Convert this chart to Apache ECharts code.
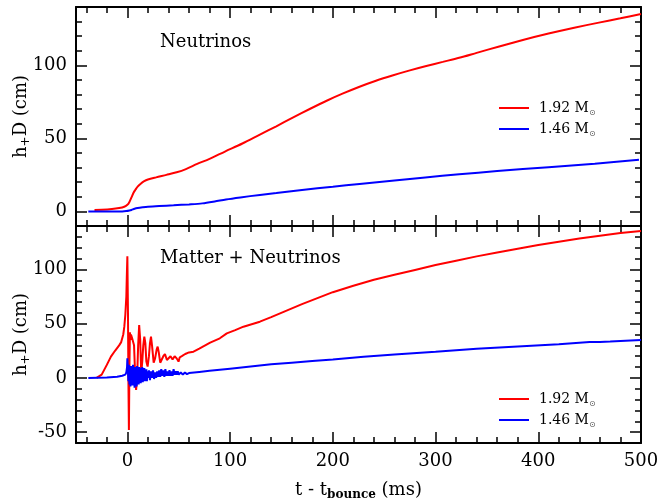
<!DOCTYPE html>
<html>
<head>
<meta charset="utf-8">
<script src="https://cdn.jsdelivr.net/npm/echarts@6/dist/echarts.min.js"></script>
<style>
  html, body { margin: 0; padding: 0; background: #fff; }
  #chart { width: 658px; height: 502px; }
</style>
</head>
<body>
<div id="chart"></div>
<script>
// Progenitor masses (solar masses) shown in the legends
const massLabels = ['1.92', '1.46'];
const panelTitles = ['Neutrinos', 'Matter + Neutrinos'];

// Tick positions
const xMajorTicks = [0, 100, 200, 300, 400, 500];
const xMinorTicks = [-40, -20, 0, 20, 40, 60, 80, 100, 120, 140, 160, 180, 200, 220, 240, 260, 280, 300,
  320, 340, 360, 380, 400, 420, 440, 460, 480, 500];
const yMajorTicksTop = [0, 50, 100];
const yMinorTicksTop = [-10, 0, 10, 20, 30, 40, 50, 60, 70, 80, 90, 100, 110, 120, 130, 140];
const yMajorTicksBottom = [-50, 0, 50, 100];
const yMinorTicksBottom = [-60, -50, -40, -30, -20, -10, 0, 10, 20, 30, 40, 50, 60, 70, 80, 90, 100, 110, 120, 130, 140];

// Neutrino-only signal, [t - t_bounce (ms), h+D (cm)]
const nuHeavy = [
  [-32, 1.0], [-25, 1.1], [-15, 1.6], [-8, 2.3], [-3, 3.2], [0, 4.5], [2, 6.5], [4, 9.6], [6, 12.8],
  [8, 15.0], [10, 17.0], [13, 19.0], [16, 20.5], [20, 21.8], [28, 23.3], [38, 25.0], [48, 26.8],
  [57, 29.0], [68, 32.5], [80, 36.0], [95, 41.0], [112, 46.5], [129, 52.6], [145, 58.3], [161, 64.2],
  [178, 70.3], [194, 75.8], [210, 80.8], [226, 85.4], [242, 89.5], [258, 93.1], [275, 96.6],
  [291, 99.6], [307, 102.4], [323, 105.2], [340, 108.6], [362, 113.0], [385, 117.4], [410, 121.8],
  [435, 125.8], [459, 129.3], [480, 132.3], [500, 135.2]
];
const nuLight = [
  [-38, 0], [-20, 0], [-5, 0], [-1, 0.2], [2, 0.6], [4, 1.0], [7, 1.8], [10, 2.3], [15, 2.8], [20, 3.2],
  [31, 3.7], [45, 4.2], [60, 4.8], [73, 5.5], [85, 6.8], [96, 8.2], [110, 9.6], [129, 11.3], [145, 12.6],
  [170, 14.7], [200, 16.9], [226, 18.8], [260, 21.2], [290, 23.3], [323, 25.4], [360, 27.6], [410, 30.3],
  [455, 32.7], [498, 35.3]
];

// Matter + neutrino signal, [t - t_bounce (ms), h+D (cm)]
const fullHeavy = [
  [-30, 0], [-25, 3], [-20, 12], [-16, 19.6], [-12, 25], [-8, 30], [-6, 33], [-4, 40], [-3, 47],
  [-2, 58], [-1, 75], [-0.5, 95], [0, 112], [0.6, 60], [1.0, 0], [1.5, -48], [2, 10], [2.5, 42],
  [3, 35], [3.5, 40], [4.5, 37], [5.5, 38], [6.5, 30], [7.5, 5], [8.5, -11], [9.5, 0], [10.5, 30],
  [11.5, 48.8], [12.5, 35], [13.5, 4.3], [14.5, 15], [15.5, 30], [16.5, 38], [17.5, 32], [18.5, 15],
  [19.7, 10.4], [21, 20], [22, 32], [23, 38], [24, 30], [25.6, 14], [27, 18], [28.5, 26], [29.5, 28.8],
  [30.5, 24], [32, 14], [33.5, 15], [35, 20], [36.6, 22], [38.5, 16.5], [40, 18], [42, 20], [44, 17],
  [46, 20], [48, 18], [49.8, 15], [51, 19], [53, 20], [56.3, 22], [60, 23.5], [64.4, 24.2], [70, 27],
  [80.6, 32.5], [90, 36.5], [96.8, 41], [105, 44], [113, 47.2], [121, 49.5], [129, 51.8], [140, 56],
  [155, 62], [170, 68], [185, 73.5], [200, 79], [220, 85], [240, 90.5], [260, 95], [280, 99.5],
  [300, 104], [320, 108], [340, 112], [360, 115.5], [380, 119], [400, 122.5], [420, 125.5],
  [440, 128.5], [460, 131], [480, 133.5], [500, 135.5]
];
const fullLight = [
  [-38, 0], [-20, 0.3], [-10, 1], [-5, 2], [-2, 3], [-1, 5], [-0.3, 10], [0, 18], [0.5, 8], [1, -3],
  [1.5, 12], [2, -6], [2.5, 10], [3, -8], [3.5, 11], [4, -4], [4.5, 9], [5, -7], [5.5, 12], [6, -2],
  [6.5, 8], [7, -9], [7.5, 10], [8, -3], [8.5, 9], [9, -8], [9.5, 11], [10, -1], [10.5, 7], [11, -6],
  [11.5, 10], [12, -2], [12.5, 9], [13, -5], [13.5, 8], [14, -1], [14.5, 10], [15, -4], [15.5, 7],
  [16, -2], [16.5, 9], [17, -3], [17.5, 6], [18, 0], [18.5, 8], [19, -3], [19.5, 6], [20, 0], [21, 7],
  [22, -2], [23, 6], [24, 0], [25, 7], [26, -1], [27, 5], [28, 0], [29, 6], [30, 1], [31, 7], [32, 1],
  [33, 8], [34, 2], [35, 7], [36, 1], [37, 8], [38, 2], [39, 6], [40, 2], [41, 7], [42, 2], [43, 6],
  [44, 2], [45, 8], [46, 3], [47, 6], [48, 3], [49, 6], [50, 3], [52, 5], [54, 3], [56, 5], [58, 3.5],
  [60, 4.5], [65, 5], [70, 5.5], [80, 6.5], [90, 7.5], [100, 8.5], [120, 10.5], [140, 12.5], [160, 14],
  [180, 15.5], [200, 17], [230, 19.5], [260, 21.5], [300, 24], [340, 26.8], [380, 29], [420, 31],
  [450, 33], [460, 33.2], [470, 33.5], [480, 34], [490, 34.5], [500, 35]
];

const FONT = 'DejaVu Serif';
const RED = '#ff0000';
const BLUE = '#0000ff';

const grids = [
  { left: 76, right: 17, top: 7, height: 219, outerBoundsMode: 'none', containLabel: false },
  { left: 76, right: 17, top: 226, height: 217, outerBoundsMode: 'none', containLabel: false }
];
const yRanges = [
  { min: -10, max: 140, major: yMajorTicksTop, minor: yMinorTicksTop },
  { min: -60, max: 140, major: yMajorTicksBottom, minor: yMinorTicksBottom }
];

const frameLine = { show: true, onZero: false, lineStyle: { color: '#000', width: 2 } };
const noLine = { show: false, onZero: false };
const tickStyle = { color: '#000', width: 1.5 };
const labelFont = { color: '#000', fontFamily: FONT, fontSize: 18 };

function xAxesFor(g) {
  const list = [];
  ['bottom', 'top'].forEach(function (pos) {
    const labelled = pos === 'bottom' && g === 1;
    const main = {
      type: 'value', gridIndex: g, min: -50, max: 500, position: pos,
      axisLine: frameLine,
      axisTick: { show: true, inside: true, length: 11, customValues: xMajorTicks, lineStyle: tickStyle },
      axisLabel: Object.assign({ show: labelled, customValues: xMajorTicks, margin: 9 }, labelFont),
      splitLine: { show: false }
    };
    if (labelled) {
      main.name = 't - t{s|bounce} (ms)';
      main.nameLocation = 'middle';
      main.nameGap = 36;
      main.nameMoveOverlap = false;
      main.nameTextStyle = {
        color: '#000', fontFamily: FONT, fontSize: 18, lineHeight: 22,
        rich: { s: { fontFamily: FONT, fontSize: 12, fontWeight: 'bold', lineHeight: 12, verticalAlign: 'bottom' } }
      };
    }
    list.push(main);
    list.push({
      type: 'value', gridIndex: g, min: -50, max: 500, position: pos,
      axisLine: noLine,
      axisTick: { show: true, inside: true, length: 6, customValues: xMinorTicks, lineStyle: tickStyle },
      axisLabel: { show: false },
      splitLine: { show: false }
    });
  });
  return list;
}

function yAxesFor(g) {
  const r = yRanges[g];
  const list = [];
  ['left', 'right'].forEach(function (pos) {
    const labelled = pos === 'left';
    const main = {
      type: 'value', gridIndex: g, min: r.min, max: r.max, position: pos,
      axisLine: frameLine,
      axisTick: { show: true, inside: true, length: 11, customValues: r.major, lineStyle: tickStyle },
      axisLabel: Object.assign({ show: labelled, customValues: r.major, margin: 9 }, labelFont),
      splitLine: { show: false }
    };
    if (labelled) {
      main.name = 'h{s|+}D (cm)';
      main.nameLocation = 'middle';
      main.nameRotate = 90;
      main.nameGap = 44;
      main.nameMoveOverlap = false;
      main.nameTextStyle = {
        color: '#000', fontFamily: FONT, fontSize: 18, lineHeight: 22,
        rich: { s: { fontFamily: FONT, fontSize: 12, lineHeight: 12, verticalAlign: 'bottom' } }
      };
    }
    list.push(main);
    list.push({
      type: 'value', gridIndex: g, min: r.min, max: r.max, position: pos,
      axisLine: noLine,
      axisTick: { show: true, inside: true, length: 6, customValues: r.minor, lineStyle: tickStyle },
      axisLabel: { show: false },
      splitLine: { show: false }
    });
  });
  return list;
}

function curve(name, data, color, g, smooth) {
  return {
    type: 'line', name: name, data: data, xAxisIndex: g * 4, yAxisIndex: g * 4,
    showSymbol: false, symbol: 'none', smooth: smooth,
    lineStyle: { color: color, width: 2 }, itemStyle: { color: color },
    emphasis: { disabled: true }, silent: true
  };
}

function legendAt(top) {
  return {
    left: 494, top: top, orient: 'vertical', icon: 'rect', itemWidth: 30, itemHeight: 2, itemGap: 5,
    selectedMode: false, data: massLabels,
    formatter: function (name) { return '{n|' + name + ' M}{s|\u2299}'; },
    textStyle: {
      color: '#000', fontFamily: FONT, fontSize: 14, padding: [0, 0, 0, 5],
      rich: {
        n: { color: '#000', fontFamily: FONT, fontSize: 14, lineHeight: 18 },
        s: { color: '#555', fontFamily: 'DejaVu Sans', fontSize: 8, lineHeight: 8, verticalAlign: 'bottom' }
      }
    }
  };
}

const chart = echarts.init(document.getElementById('chart'), null, { renderer: 'canvas' });
chart.setOption({
  animation: false,
  backgroundColor: '#fff',
  grid: grids,
  xAxis: xAxesFor(0).concat(xAxesFor(1)),
  yAxis: yAxesFor(0).concat(yAxesFor(1)),
  legend: [legendAt(96), legendAt(387)],
  graphic: [
    { type: 'text', left: 160, top: 33, style: { text: panelTitles[0], font: '18px "DejaVu Serif"', fill: '#000' } },
    { type: 'text', left: 160, top: 249, style: { text: panelTitles[1], font: '18px "DejaVu Serif"', fill: '#000' } }
  ],
  series: [
    curve(massLabels[0], nuHeavy, RED, 0, 0.3),
    curve(massLabels[1], nuLight, BLUE, 0, 0.3),
    curve(massLabels[0], fullHeavy, RED, 1, false),
    curve(massLabels[1], fullLight, BLUE, 1, false)
  ]
});
</script>
</body>
</html>
